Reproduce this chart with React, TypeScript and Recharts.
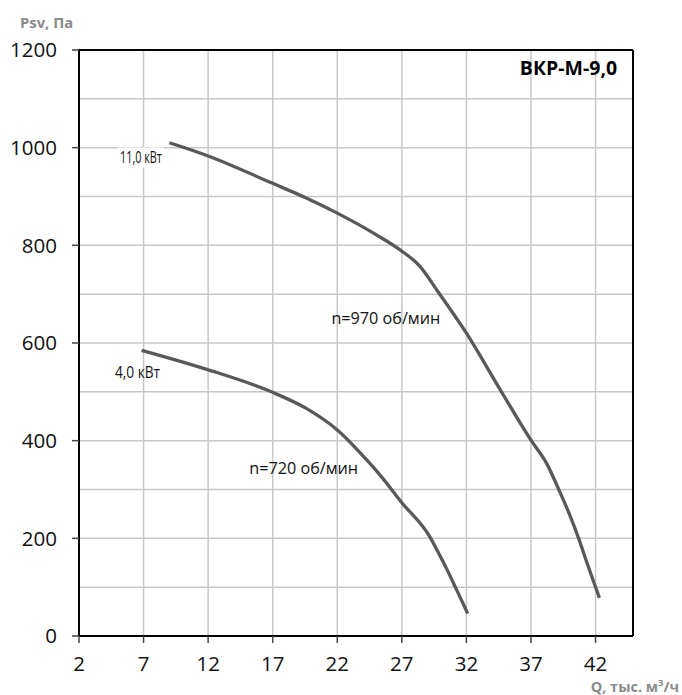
import React from "react";
import {
  LineChart,
  Line,
  XAxis,
  YAxis,
  CartesianGrid,
  ReferenceLine,
  ReferenceDot,
} from "recharts";

// ---- data ----
const xTicks = [2, 7, 12, 17, 22, 27, 32, 37, 42];
const yTicks = [0, 200, 400, 600, 800, 1000, 1200];
const yGridValues = [100, 200, 300, 400, 500, 600, 700, 800, 900, 1000, 1100];
const xDomain = [2, 44.9];
const yDomain = [0, 1200];

const q970 = [9.0, 12.0, 16.9, 19.6, 22.0, 25.0, 26.9, 28.4, 29.8, 32.0, 34.6, 37.0, 38.2, 39.2, 40.0, 40.65, 41.4, 42.3];
const p970 = [1010, 983, 928, 897, 866, 822, 790, 757, 705, 620, 505, 401, 354, 297, 248, 203, 145, 78];

const q720 = [6.85, 11.9, 16.9, 19.6, 22.0, 24.3, 25.3, 27.0, 29.17, 29.8, 30.46, 31.2, 32.1];
const p720 = [585, 546, 500, 466, 422, 360, 330, 273, 203, 172, 138, 97, 46];

const series970 = q970.map((q, i) => ({ q, p: p970[i] }));
const series720 = q720.map((q, i) => ({ q, p: p720[i] }));

const labels = [
  { q: 6.8, p: 980, text: "11,0 кВт", kind: "power", bg: true, len: 42 },
  { q: 6.53, p: 540, text: "4,0 кВт", kind: "power", bg: false, len: 45 },
  { q: 25.76, p: 652, text: "n=970 об/мин", kind: "speed", bg: false, len: 0 },
  { q: 19.4, p: 344, text: "n=720 об/мин", kind: "speed", bg: false, len: 0 },
];
const title = { q: 43.67, p: 1164, text: "ВКР-М-9,0" };

const FONT = "'Open Sans', 'Noto Sans', sans-serif";
const CURVE = "#595959";
const GRID = "#c8c8c8";

const makeLabel = (l: any) => (props: any) => {
  const vb = props.viewBox || {};
  const x = (vb.x ?? 0) + (vb.width ?? 0) / 2;
  const y = (vb.y ?? 0) + (vb.height ?? 0) / 2;
  if (l.kind === "power") {
    return (
      <g>
        {l.bg && <rect x={x - 23} y={y - 10} width={46} height={20} fill="#fff" />}
        <text
          x={x}
          y={y}
          textAnchor="middle"
          dominantBaseline="central"
          fontFamily={FONT}
          fontSize={16}
          textLength={l.len}
          lengthAdjust="spacingAndGlyphs"
          fill="#111"
        >
          {l.text}
        </text>
      </g>
    );
  }
  return (
    <text
      x={x}
      y={y}
      textAnchor="middle"
      dominantBaseline="central"
      fontFamily={FONT}
      fontSize={16.2}
      fill="#111"
    >
      {l.text}
    </text>
  );
};

const titleLabel = (props: any) => {
  const vb = props.viewBox || {};
  const x = (vb.x ?? 0) + (vb.width ?? 0) / 2;
  const y = (vb.y ?? 0) + (vb.height ?? 0) / 2;
  return (
    <text
      x={x}
      y={y}
      textAnchor="end"
      dominantBaseline="central"
      fontFamily={FONT}
      fontWeight={700}
      fontSize={19.5}
      fill="#000"
    >
      {title.text}
    </text>
  );
};

export default function App() {
  return (
    <div style={{ position: "absolute", left: 0, top: 0, width: 682, height: 695, background: "#fff", overflow: "hidden" }}>
      <LineChart
        width={682}
        height={695}
        margin={{ top: 50, right: 49, left: 0, bottom: 0 }}
      >
        <CartesianGrid
          stroke={GRID}
          strokeWidth={1.5}
          horizontalValues={yGridValues}
          verticalValues={xTicks}
        />
        <XAxis
          type="number"
          dataKey="q"
          domain={xDomain}
          ticks={xTicks}
          allowDataOverflow
          height={59}
          axisLine={{ stroke: "#000", strokeWidth: 2 }}
          tickLine={{ stroke: "#444", strokeWidth: 1.5 }}
          tickSize={7}
          tickMargin={13}
          tick={{ fill: "#111", fontSize: 20.5, fontFamily: FONT }}
        />
        <YAxis
          type="number"
          dataKey="p"
          domain={yDomain}
          ticks={yTicks}
          allowDataOverflow
          width={79}
          axisLine={{ stroke: "#000", strokeWidth: 2 }}
          tickLine={{ stroke: "#444", strokeWidth: 1.5 }}
          tickSize={7}
          tickMargin={15}
          tick={{ fill: "#111", fontSize: 20.5, fontFamily: FONT }}
        />
        <ReferenceLine y={1200} stroke="#000" strokeWidth={2} />
        <ReferenceLine x={xDomain[1]} stroke="#000" strokeWidth={2} />
        <Line
          data={series970}
          dataKey="p"
          type="monotone"
          stroke={CURVE}
          strokeWidth={3.3}
          dot={false}
          isAnimationActive={false}
        />
        <Line
          data={series720}
          dataKey="p"
          type="monotone"
          stroke={CURVE}
          strokeWidth={3.3}
          dot={false}
          isAnimationActive={false}
        />
        {labels.map((l, i) => (
          <ReferenceDot
            key={i}
            x={l.q}
            y={l.p}
            r={1}
            fill="none"
            stroke="none"
            ifOverflow="visible"
            label={makeLabel(l)}
          />
        ))}
        <ReferenceDot
          x={title.q}
          y={title.p}
          r={1}
          fill="none"
          stroke="none"
          ifOverflow="visible"
          label={titleLabel}
        />
      </LineChart>
      <div
        style={{
          position: "absolute",
          left: 20,
          top: 12,
          fontFamily: FONT,
          fontWeight: 700,
          fontSize: 14.8,
          color: "#8a8a8a",
          lineHeight: "20px",
          whiteSpace: "nowrap",
        }}
      >
        Psv, Па
      </div>
      <div
        style={{
          position: "absolute",
          right: 3,
          top: 679,
          fontFamily: FONT,
          fontWeight: 700,
          fontSize: 14.5,
          color: "#8a8a8a",
          lineHeight: "16px",
          whiteSpace: "nowrap",
        }}
      >
        Q, тыс. м<sup style={{ fontSize: 9.5, lineHeight: 0 }}>3</sup>/ч
      </div>
    </div>
  );
}
